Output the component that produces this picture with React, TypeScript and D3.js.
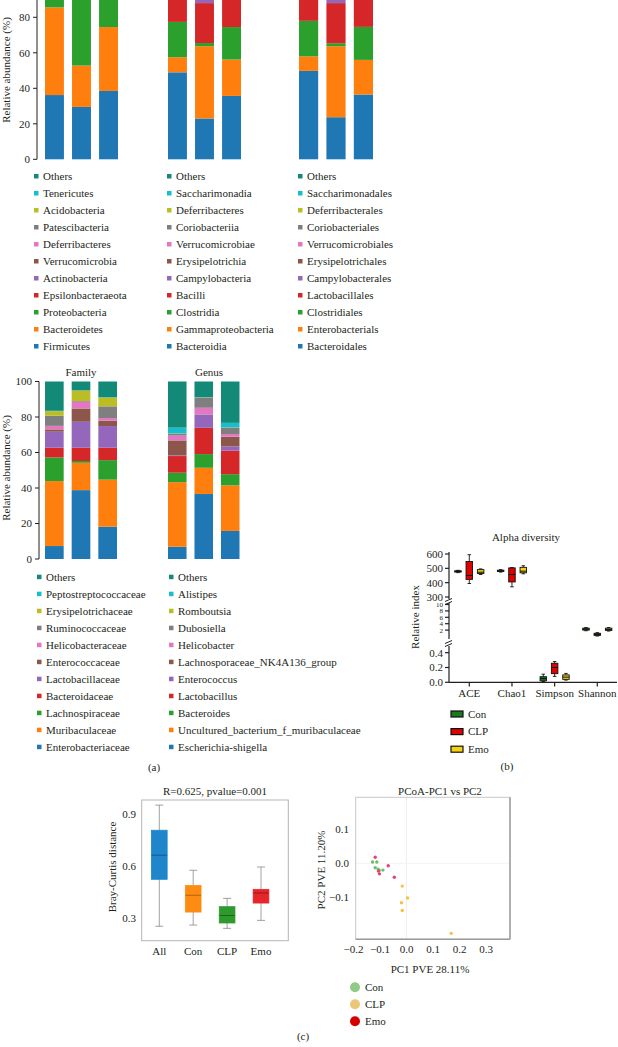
import React from "react";
import * as d3 from "d3";

const W = 618;
const H = 1047;
const FONT = "'Liberation Serif', 'DejaVu Serif', serif";
const INK = "#231f20";
const FS = 11;

const samples = ["S1", "S2", "S3"];
// stacking order: first colour sits at the bottom of a bar, "Others" on top
const taxaColors = ["#1f77b4", "#ff7f0e", "#2ca02c", "#d62728", "#9467bd", "#8c564b", "#e377c2", "#7f7f7f", "#bcbd22", "#17becf", "#138a78"];

const phylumTaxa = ["Firmicutes", "Bacteroidetes", "Proteobacteria", "Epsilonbacteraeota", "Actinobacteria", "Verrucomicrobia", "Deferribacteres", "Patescibacteria", "Acidobacteria", "Tenericutes", "Others"];
const phylumValues = [
  [36.2, 49.4, 8, 2, 1, 0.8, 0.7, 0.5, 0.2, 0.2, 1],
  [29.5, 23.3, 40.2, 3, 1.5, 0.8, 0.6, 0.4, 0.2, 0.2, 0.3],
  [38.5, 36, 18, 3.5, 1.5, 0.8, 0.6, 0.4, 0.3, 0.1, 0.3],
];

const classTaxa = ["Bacteroidia", "Gammaproteobacteria", "Clostridia", "Bacilli", "Campylobacteria", "Erysipelotrichia", "Verrucomicrobiae", "Coriobacteriia", "Deferribacteres", "Saccharimonadia", "Others"];
const classValues = [
  [49, 8.5, 19.9, 15, 2, 2, 1, 1, 0.6, 0.5, 0.5],
  [23, 40.7, 1.8, 22.5, 3, 2.5, 2.5, 2, 1, 0.5, 0.5],
  [35.7, 20.5, 18.3, 16.1, 2, 2.5, 1.5, 1.5, 0.8, 0.6, 0.5],
];

const orderTaxa = ["Bacteroidales", "Enterobacterials", "Clostridiales", "Lactobacillales", "Campylobacterales", "Erysipelotrichales", "Verrucomicrobiales", "Coriobacteriales", "Deferribacterales", "Saccharimonadales", "Others"];
const orderValues = [
  [49.8, 8.2, 20, 14.5, 2, 2, 1, 1, 0.5, 0.5, 0.5],
  [23.7, 40, 1.7, 22.6, 3, 2.5, 2.5, 2, 1, 0.5, 0.5],
  [36.5, 19.5, 18.6, 16, 2, 2.5, 1.5, 1.5, 0.8, 0.6, 0.5],
];

const familyTaxa = ["Enterobacteriaceae", "Muribaculaceae", "Lachnospiraceae", "Bacteroidaceae", "Lactobacillaceae", "Enterococcaceae", "Helicobacteraceae", "Ruminococcaceae", "Erysipelotrichaceae", "Peptostreptococcaceae", "Others"];
const familyValues = [
  [7.3, 36.6, 13.3, 5.5, 9, 1.3, 2, 5.7, 2.6, 0.2, 16.5],
  [38.8, 15.4, 1, 7.5, 14.6, 7.5, 3.8, 0.4, 5.9, 0.1, 5],
  [18.2, 26.5, 11, 7, 12.2, 3, 1.5, 6.6, 5, 0.1, 8.9],
];

const genusTaxa = ["Escherichia-shigella", "Uncultured_bacterium_f_muribaculaceae", "Bacteroides", "Lactobacillus", "Enterococcus", "Lachnosporaceae_NK4A136_group", "Helicobacter", "Dubosiella", "Romboutsia", "Alistipes", "Others"];
const genusValues = [
  [6.9, 36.4, 5.3, 9.4, 0.4, 8.4, 2.7, 1.2, 0.1, 3.2, 26],
  [36.6, 14.8, 7.7, 14.8, 7.5, 0.1, 3.7, 5.8, 0.1, 0.1, 8.8],
  [15.8, 25.7, 6.3, 13.2, 2.4, 5.5, 1.5, 3.7, 0.1, 2.5, 23.3],
];

const abundanceTicks = [0, 20, 40, 60, 80, 100];

// alpha diversity, per group: [min, q1, median, q3, max]
const alphaMetrics = ["ACE", "Chao1", "Simpson", "Shannon"];
const groups = ["Con", "CLP", "Emo"];
const alphaColors = ["#1b7a1b", "#e00000", "#f3d20f"];
const aceStats = [[470, 474, 478, 483, 486], [394, 423, 450, 548, 595], [457, 464, 473, 491, 496]];
const chao1Stats = [[474, 478, 482, 487, 491], [371, 405, 457, 503, 505], [462, 469, 480, 507, 518]];
const simpsonStats = [[0.01, 0.02, 0.05, 0.076, 0.11], [0.08, 0.117, 0.2, 0.257, 0.28], [0.03, 0.04, 0.07, 0.1, 0.12]];
const shannonStats = [[1.8, 2.0, 2.3, 2.6, 2.8], [0.15, 0.35, 0.65, 1.0, 1.2], [1.7, 1.9, 2.2, 2.6, 2.8]];
const upperTicks = [300, 400, 500, 600];
const middleTicks = [2, 4, 6, 8, 10];
const lowerTicks = [0, 0.2, 0.4];

// Bray-Curtis distances
const bcGroups = ["All", "Con", "CLP", "Emo"];
const bcColors = ["#1f86cc", "#ff8c12", "#2e9a2e", "#e5262a"];
const bcMedianColors = ["#145a8a", "#b86008", "#1d651d", "#9c1518"];
const bcStats = [[0.254, 0.525, 0.664, 0.808, 0.953], [0.261, 0.336, 0.433, 0.489, 0.577], [0.242, 0.273, 0.316, 0.367, 0.415], [0.288, 0.388, 0.446, 0.467, 0.596]];
const bcTicks = [0.3, 0.6, 0.9];

// PCoA
const pcoaGroups = ["Con", "CLP", "Emo"];
const pcoaPointColors = ["#6dbf6a", "#f6c33f", "#e8417a"];
const pcoaLegendColors = ["#8fca86", "#eac878", "#d60000"];
const conPC1 = [-0.128, -0.112, -0.118, -0.107, -0.089, -0.103];
const conPC2 = [0.004, 0.004, -0.013, -0.017, -0.020, -0.021];
const clpPC1 = [-0.016, 0.004, -0.019, -0.016, 0.169];
const clpPC2 = [-0.067, -0.102, -0.116, -0.139, -0.206];
const emoPC1 = [-0.118, -0.069, -0.106, -0.102, -0.046];
const emoPC2 = [0.018, -0.007, -0.023, -0.031, -0.041];
const pc1Ticks = [-0.2, -0.1, 0, 0.1, 0.2, 0.3];
const pc2Ticks = [-0.1, 0, 0.1];

const txt = { fontFamily: FONT, fill: INK } as const;
const signed = (t: number) => (t === 0 ? "0.0" : t.toFixed(1).replace("-", "\u2212"));

function StackedBars({ x0, x1, y, values }) {
  const x = d3.scaleBand().domain(samples).range([x0, x1]).paddingInner(0.3);
  return (
    <g>
      {values.map((vals, i) => {
        const tops = d3.cumsum(vals);
        return vals.map((v, j) => (
          <rect key={i + "-" + j} x={x(samples[i])} width={x.bandwidth()} y={y(tops[j])}
            height={Math.max(0, y(tops[j] - v) - y(tops[j]))} fill={taxaColors[j]} />
        ));
      })}
    </g>
  );
}

function AbundanceAxis({ ax, y, labelY }) {
  const [r0, r1] = y.range();
  // the top panel is cropped by the page edge, so skip ticks that fall above it
  const ticks = abundanceTicks.filter(t => y(t) > 4);
  return (
    <g>
      <line x1={ax} x2={ax} y1={r0} y2={Math.max(r1, 0)} stroke={INK} strokeWidth={1} />
      {ticks.map(t => (
        <g key={t}>
          <line x1={ax - 4} x2={ax} y1={y(t)} y2={y(t)} stroke={INK} />
          <text x={ax - 7} y={y(t)} dy="0.35em" textAnchor="end" fontSize={FS} {...txt}>{t}</text>
        </g>
      ))}
      <text transform={`translate(10,${labelY}) rotate(-90)`} textAnchor="middle" fontSize={FS} {...txt}>
        Relative abundance (%)
      </text>
    </g>
  );
}

function TaxaLegend({ x, y0, taxa }) {
  const rows = d3.scaleLinear().domain([0, 10]).range([y0, y0 + 170]);
  const shown = taxa.map((t, i) => ({ t, c: taxaColors[i] })).reverse();
  return (
    <g>
      {shown.map((d, i) => (
        <g key={d.t}>
          <rect x={x - 2} y={rows(i) - 2} width={4.5} height={4.5} fill={d.c} />
          <text x={x + 7} y={rows(i)} dy="0.35em" fontSize={FS} {...txt}>{d.t}</text>
        </g>
      ))}
    </g>
  );
}

function Box({ cx, w, y, s, fill, stroke, median, whisker, cap, sw = 1 }) {
  const [mn, q1, md, q3, mx] = s;
  return (
    <g>
      <line x1={cx} x2={cx} y1={y(mx)} y2={y(q3)} stroke={whisker} strokeWidth={sw} />
      <line x1={cx} x2={cx} y1={y(q1)} y2={y(mn)} stroke={whisker} strokeWidth={sw} />
      <line x1={cx - cap / 2} x2={cx + cap / 2} y1={y(mx)} y2={y(mx)} stroke={whisker} strokeWidth={sw} />
      <line x1={cx - cap / 2} x2={cx + cap / 2} y1={y(mn)} y2={y(mn)} stroke={whisker} strokeWidth={sw} />
      <rect x={cx - w / 2} y={y(q3)} width={w} height={Math.max(1, y(q1) - y(q3))} fill={fill} stroke={stroke} strokeWidth={sw} />
      <line x1={cx - w / 2} x2={cx + w / 2} y1={y(md)} y2={y(md)} stroke={median} strokeWidth={1} />
    </g>
  );
}

function AlphaPanel() {
  const ax = 449;
  const upper = d3.scaleLinear().domain([300, 600]).range([597, 554]);
  const middle = d3.scaleLinear().domain([0, 10]).range([636.5, 604.5]);
  const lower = d3.scaleLinear().domain([0, 0.4]).range([682.3, 652.7]);
  const x = d3.scalePoint().domain(alphaMetrics).range([469.3, 597.3]);
  const inner = d3.scaleBand().domain(groups).range([-17, 17]);
  const scaleFor = [upper, upper, lower, middle];
  const statsFor = [aceStats, chao1Stats, simpsonStats, shannonStats];
  const segs = [
    { sc: upper, ticks: upperTicks, top: 552, bottom: 599, fs: FS },
    { sc: middle, ticks: middleTicks, top: 603, bottom: 639, fs: 7 },
    { sc: lower, ticks: lowerTicks, top: 646, bottom: 682.3, fs: FS },
  ];
  const breaks = [600.5, 642.5];
  return (
    <g>
      <text x={526} y={541} textAnchor="middle" fontSize={FS} {...txt}>Alpha diversity</text>
      {segs.map((s, i) => (
        <g key={i}>
          <line x1={ax} x2={ax} y1={s.top} y2={s.bottom} stroke={INK} strokeWidth={1.2} />
          {s.ticks.map(t => (
            <g key={t}>
              <line x1={ax - 4} x2={ax} y1={s.sc(t)} y2={s.sc(t)} stroke={INK} strokeWidth={1.2} />
              <text x={ax - 6} y={s.sc(t)} dy="0.35em" textAnchor="end" fontSize={s.fs} {...txt}>
                {i === 2 ? d3.format(".1f")(t) : t}
              </text>
            </g>
          ))}
        </g>
      ))}
      {breaks.map(b => (
        <g key={b} stroke={INK} strokeWidth={1}>
          <line x1={ax - 4} x2={ax + 3} y1={b + 1} y2={b - 2} />
          <line x1={ax - 4} x2={ax + 3} y1={b + 4} y2={b + 1} />
        </g>
      ))}
      <line x1={ax} x2={617} y1={682.3} y2={682.3} stroke={INK} strokeWidth={1.2} />
      {alphaMetrics.map((m, i) => (
        <g key={m}>
          <line x1={x(m)} x2={x(m)} y1={682.3} y2={686.5} stroke={INK} strokeWidth={1.2} />
          <text x={x(m)} y={697} textAnchor="middle" fontSize={FS} {...txt}>{m}</text>
          {groups.map((g, j) => (
            <Box key={g} cx={x(m) + inner(g) + inner.bandwidth() / 2} w={6.5} y={scaleFor[i]} s={statsFor[i][j]}
              fill={alphaColors[j]} stroke="#111" median="#111" whisker="#111" cap={3.5} sw={0.9} />
          ))}
        </g>
      ))}
      <text transform="translate(419,617) rotate(-90)" textAnchor="middle" fontSize={FS} {...txt}>Relative index</text>
      {groups.map((g, j) => (
        <g key={g}>
          <rect x={451} y={711 + j * 17.6} width={12} height={6} fill={alphaColors[j]} stroke="#111" strokeWidth={1.2} />
          <text x={468} y={714 + j * 17.6} dy="0.35em" fontSize={FS} {...txt}>{g}</text>
        </g>
      ))}
      <text x={507} y={770} textAnchor="middle" fontSize={FS} {...txt}>(b)</text>
    </g>
  );
}

function BrayCurtisPanel() {
  const y = d3.scaleLinear().domain([0.3, 0.9]).range([918.3, 814.3]);
  const x = d3.scalePoint().domain(bcGroups).range([159.3, 261]);
  return (
    <g>
      <text x={215} y={795} textAnchor="middle" fontSize={FS} {...txt}>R=0.625, pvalue=0.001</text>
      <rect x={141.7} y={800} width={146.6} height={140.7} fill="none" stroke="#b5b5b5" strokeWidth={1} />
      {bcTicks.map(t => (
        <text key={t} x={136} y={y(t)} dy="0.35em" textAnchor="end" fontSize={FS} {...txt}>{t.toFixed(1)}</text>
      ))}
      <text transform="translate(116,867) rotate(-90)" textAnchor="middle" fontSize={FS} {...txt}>Bray-Curtis distance</text>
      {bcGroups.map((g, i) => (
        <g key={g}>
          <Box cx={x(g)} w={15.7} y={y} s={bcStats[i]} fill={bcColors[i]} stroke={bcColors[i]}
            median={bcMedianColors[i]} whisker="#8a8a8a" cap={8} sw={0.8} />
          <text x={x(g)} y={955} textAnchor="middle" fontSize={FS} {...txt}>{g}</text>
        </g>
      ))}
    </g>
  );
}

function PcoaPanel() {
  const x = d3.scaleLinear().domain([-0.2, 0.3]).range([353.5, 486]);
  const y = d3.scaleLinear().domain([-0.1, 0.1]).range([897.3, 829.3]);
  const sets = [
    { xs: conPC1, ys: conPC2 },
    { xs: clpPC1, ys: clpPC2 },
    { xs: emoPC1, ys: emoPC2 },
  ];
  const left = 355.7, right = 510, top = 797.3, bottom = 939.3;
  return (
    <g>
      <text x={440} y={795} textAnchor="middle" fontSize={FS} {...txt}>PCoA-PC1 vs PC2</text>
      <line x1={x(0)} x2={x(0)} y1={top} y2={bottom} stroke="#efefef" />
      <line x1={left} x2={right} y1={y(0)} y2={y(0)} stroke="#f3f3f3" />
      <rect x={left} y={top} width={right - left} height={bottom - top} fill="none" stroke="#c8c8c8" />
      <line x1={right} x2={right} y1={top} y2={bottom} stroke="#9a9a9a" strokeWidth={1.4} />
      <line x1={left} x2={right} y1={bottom} y2={bottom} stroke="#9a9a9a" strokeWidth={1.4} />
      {pc1Ticks.map(t => (
        <text key={t} x={x(t)} y={953} textAnchor="middle" fontSize={FS} {...txt}>{signed(t)}</text>
      ))}
      {pc2Ticks.map(t => (
        <text key={t} x={349} y={y(t)} dy="0.35em" textAnchor="end" fontSize={FS} {...txt}>{signed(t)}</text>
      ))}
      <text x={430} y={973} textAnchor="middle" fontSize={FS} {...txt}>PC1 PVE 28.11%</text>
      <text transform="translate(325,870) rotate(-90)" textAnchor="middle" fontSize={FS} {...txt}>PC2 PVE 11.20%</text>
      {sets.map((s, i) => s.xs.map((v, k) => (
        <circle key={i + "-" + k} cx={x(v)} cy={y(s.ys[k])} r={1.7} fill={pcoaPointColors[i]} />
      )))}
      {pcoaGroups.map((g, i) => (
        <g key={g}>
          <circle cx={355} cy={987.3 + i * 17} r={5} fill={pcoaLegendColors[i]} />
          <text x={365} y={987.3 + i * 17} dy="0.35em" fontSize={FS} {...txt}>{g}</text>
        </g>
      ))}
    </g>
  );
}

export default function App() {
  const yTop = d3.scaleLinear().domain([0, 100]).range([159.3, -18.2]);
  const yBottom = d3.scaleLinear().domain([0, 100]).range([559, 381.5]);
  return (
    <>
      <style>{`body{margin:0;} svg{display:block;}`}</style>
      <svg width={W} height={H} style={{ background: "#fff" }}>
        {/* top: phylum / class / order */}
        <AbundanceAxis ax={37} y={yTop} labelY={70} />
        <StackedBars x0={45} x1={118} y={yTop} values={phylumValues} />
        <StackedBars x0={168} x1={241} y={yTop} values={classValues} />
        <StackedBars x0={299} x1={373} y={yTop} values={orderValues} />
        <TaxaLegend x={36} y0={176} taxa={phylumTaxa} />
        <TaxaLegend x={169} y0={176} taxa={classTaxa} />
        <TaxaLegend x={300} y0={176} taxa={orderTaxa} />

        {/* family / genus */}
        <text x={81} y={376} textAnchor="middle" fontSize={FS} {...txt}>Family</text>
        <text x={209} y={376} textAnchor="middle" fontSize={FS} {...txt}>Genus</text>
        <AbundanceAxis ax={39} y={yBottom} labelY={468} />
        <StackedBars x0={45} x1={117} y={yBottom} values={familyValues} />
        <StackedBars x0={168} x1={239.5} y={yBottom} values={genusValues} />
        <TaxaLegend x={39} y0={576.7} taxa={familyTaxa} />
        <TaxaLegend x={171} y0={576.7} taxa={genusTaxa} />
        <text x={154} y={771} textAnchor="middle" fontSize={FS} {...txt}>(a)</text>

        <AlphaPanel />
        <BrayCurtisPanel />
        <PcoaPanel />
        <text x={303} y={1040} textAnchor="middle" fontSize={FS} {...txt}>(c)</text>
      </svg>
    </>
  );
}
